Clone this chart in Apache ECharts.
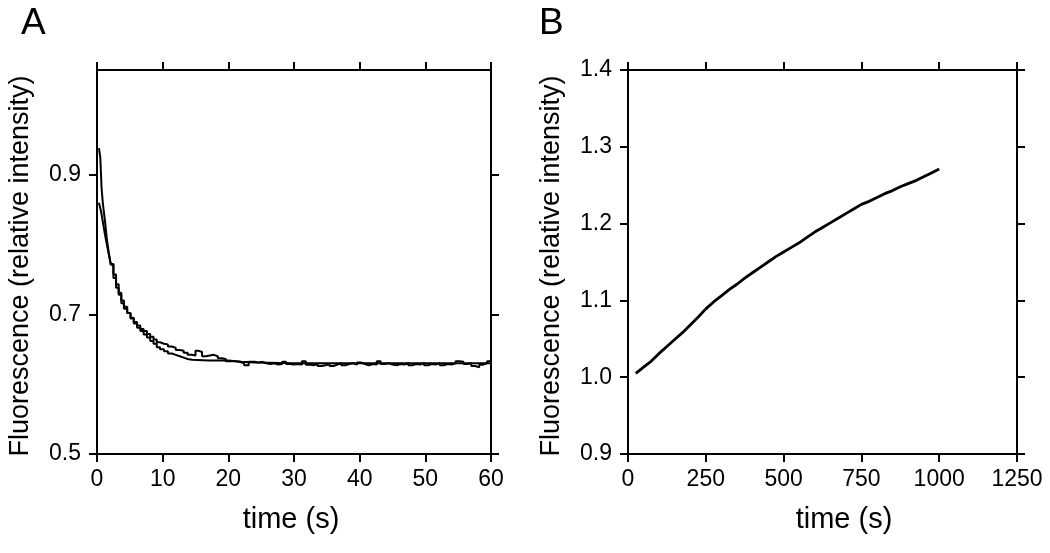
<!DOCTYPE html>
<html>
<head>
<meta charset="utf-8">
<script src="https://cdn.jsdelivr.net/npm/echarts@6/dist/echarts.min.js"></script>
<style>
html,body{margin:0;padding:0;background:#fff;}
#chart{width:1050px;height:553px;}
</style>
</head>
<body>
<div id="chart"></div>
<script>
// Panel A – fast decay, two traces
const timesA1 = [0.3,0.5,0.7,0.9,1.2,1.5,1.8,2.1,2.5,2.9,3.3,3.7,4.1,4.6,5.1,5.6,6.1,6.6,7.1,7.6,8.1,8.6,9.1,9.6,10.2,10.8,11.4,12.0,12.6,13.2,13.8,14.4,15.0,15.4,16.0,16.6,17.2,17.8,18.4,19.0,19.6,20.3,21.0,21.7,22.4,23.1,
  24.0,24.6,25.2,25.8,26.4,27.0,27.6,28.2,28.8,29.4,30.0,30.6,31.2,31.8,32.4,33.0,33.6,34.2,34.8,35.4,36.0,36.6,37.2,37.8,38.4,39.0,39.6,40.2,40.8,41.4,42.0,42.6,43.2,43.8,44.4,45.0,45.6,46.2,46.8,47.4,48.0,48.6,49.2,49.8,50.4,51.0,51.6,52.2,52.8,53.4,54.0,54.6,55.2,55.8,56.4,57.0,57.6,58.2,58.8,59.4,60.0];
const valuesA1 = [0.938,0.925,0.880,0.858,0.835,0.808,0.788,0.771,0.752,0.738,0.728,0.716,0.708,0.702,0.695,0.689,0.684,0.679,0.676,0.672,0.668,0.664,0.660,0.658,0.657,0.654,0.652,0.649,0.648,0.645,0.642,0.641,0.648,0.646,0.640,0.641,0.642,0.640,0.637,0.636,0.633,0.633,0.632,0.630,0.627,0.632,
  0.631,0.632,0.630,0.629,0.630,0.628,0.629,0.632,0.629,0.628,0.629,0.628,0.633,0.628,0.627,0.629,0.626,0.627,0.629,0.626,0.628,0.630,0.627,0.629,0.630,0.628,0.631,0.629,0.627,0.629,0.628,0.633,0.629,0.630,0.628,0.627,0.629,0.628,0.630,0.627,0.629,0.628,0.630,0.627,0.629,0.628,0.630,0.627,0.629,0.628,0.630,0.633,0.632,0.629,0.630,0.626,0.624,0.628,0.630,0.633,0.632];

const timesA2 = [0.3,0.6,0.9,1.2,1.5,1.8,2.1,2.5,2.9,3.3,3.7,4.1,4.6,5.1,5.6,6.1,6.6,7.1,7.6,8.1,8.6,9.1,9.6,10.2,10.8,11.4,12.0,12.6,13.2,13.8,14.5,17.0,20.0,22.0,24.0,30.0,40.0,50.0,60.0];
const valuesA2 = [0.860,0.848,0.832,0.815,0.800,0.786,0.772,0.757,0.743,0.731,0.720,0.711,0.702,0.694,0.687,0.681,0.676,0.671,0.667,0.662,0.658,0.653,0.650,0.647,0.644,0.642,0.640,0.638,0.636,0.635,0.634,0.634,0.632,0.631,0.630,0.630,0.630,0.630,0.631];

// Panel B – slow rise
const timesB = [25,50,75,100,125,150,175,200,225,250,275,300,325,350,375,400,425,450,475,500,525,550,575,600,625,650,675,700,725,750,775,800,825,850,875,900,925,950,975,1000];
const valuesB = [1.005,1.013,1.021,1.031,1.040,1.049,1.058,1.068,1.078,1.089,1.098,1.106,1.114,1.121,1.129,1.136,1.143,1.150,1.157,1.163,1.169,1.175,1.182,1.189,1.195,1.201,1.207,1.213,1.219,1.225,1.229,1.234,1.239,1.243,1.248,1.252,1.256,1.261,1.266,1.271];

const yTicksA = [0.5,0.7,0.9];
const xTicksA = [0,10,20,30,40,50,60];
const yTicksB = [0.9,1.0,1.1,1.2,1.3,1.4];
const xTicksB = [0,250,500,750,1000,1250];

const FONT = '"Liberation Sans", Arial, sans-serif';
const pair = (t, v) => t.map((x, i) => [x, v[i]]);

const lineStyle = {color:'#000', width:2};
const tick = (len) => ({show: true, inside:false, length: len||8, lineStyle:{color:'#000', width:2}});
const labelStyle = {color:'#000', fontSize:23, fontFamily:FONT};

function xAx(grid, max, interval, pos, labels, ticks) {
  return {type:'value', gridIndex:grid, min:0, max:max, interval:interval, position:pos,
    axisLine:{show:true, onZero:false, lineStyle:lineStyle},
    axisTick:Object.assign(tick(8), {customValues:ticks}), splitLine:{show:false},
    axisLabel:Object.assign({show:labels, margin:14, customValues:ticks, formatter:v => String(v)}, labelStyle)};
}
function yAx(grid, min, max, pos, labels, ticks) {
  return {type:'value', gridIndex:grid, min:min, max:max, position:pos,
    axisLine:{show:true, onZero:false, lineStyle:lineStyle},
    axisTick:Object.assign(tick(8), {customValues:ticks}), splitLine:{show:false},
    axisLabel:Object.assign({show:labels, margin:16, customValues:ticks, formatter:v => v.toFixed(1)}, labelStyle)};
}

const chart = echarts.init(document.getElementById('chart'), null, {renderer:'canvas'});
chart.setOption({
  backgroundColor:'#fff',
  animation:false,
  textStyle:{fontFamily:FONT},
  grid:[
    {left:97, top:70, width:394, height:384},
    {left:628, top:70, width:389, height:384}
  ],
  xAxis:[
    xAx(0, 60, 10, 'bottom', true, xTicksA),
    xAx(0, 60, 10, 'top', false, xTicksA),
    xAx(1, 1250, 250, 'bottom', true, xTicksB),
    xAx(1, 1250, 250, 'top', false, xTicksB)
  ],
  yAxis:[
    yAx(0, 0.5, 1.05, 'left', true, yTicksA), yAx(0, 0.5, 1.05, 'right', false, yTicksA),
    yAx(1, 0.9, 1.4, 'left', true, yTicksB), yAx(1, 0.9, 1.4, 'right', false, yTicksB)
  ],
  series:[
    {type:'line', xAxisIndex:0, yAxisIndex:0, data:pair(timesA2, valuesA2), step:'end', showSymbol:false,
      lineStyle:{color:'#000', width:2}},
    {type:'line', xAxisIndex:0, yAxisIndex:0, data:pair(timesA1, valuesA1), step:'end', showSymbol:false,
      lineStyle:{color:'#000', width:2}},
    {type:'line', xAxisIndex:2, yAxisIndex:2, data:pair(timesB, valuesB), showSymbol:false,
      lineStyle:{color:'#000', width:2.8}}
  ],
  graphic:[
    {type:'text', left:21, top:5, style:{text:'A', font:'37px ' + FONT, fill:'#000'}},
    {type:'text', left:539, top:5, style:{text:'B', font:'37px ' + FONT, fill:'#000'}},
    {type:'text', x:291, y:520, style:{text:'time (s)', font:'29px ' + FONT, fill:'#000', align:'center', verticalAlign:'middle'}},
    {type:'text', x:844, y:520, style:{text:'time (s)', font:'29px ' + FONT, fill:'#000', align:'center', verticalAlign:'middle'}},
    {type:'text', x:21, y:266, rotation:Math.PI/2, style:{text:'Fluorescence (relative intensity)', font:'27px ' + FONT, fill:'#000', align:'center', verticalAlign:'middle'}},
    {type:'text', x:552, y:266, rotation:Math.PI/2, style:{text:'Fluorescence (relative intensity)', font:'27px ' + FONT, fill:'#000', align:'center', verticalAlign:'middle'}}
  ]
});
</script>
</body>
</html>
